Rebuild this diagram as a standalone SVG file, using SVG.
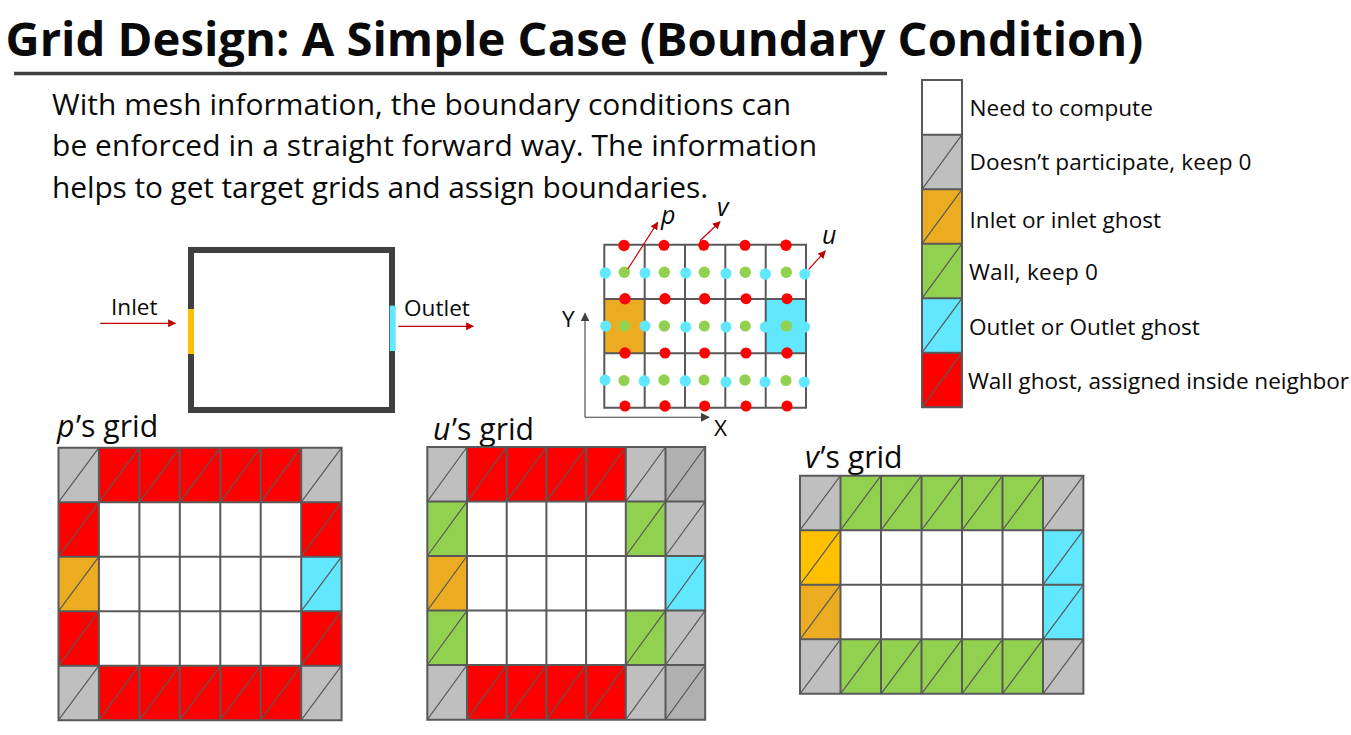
<svg xmlns="http://www.w3.org/2000/svg" width="1351" height="735" viewBox="0 0 1351 735">
<style>
text{font-family:"Open Sans","Noto Sans","DejaVu Sans",sans-serif;fill:#0a0a0a}
.t{font-size:29.9px}.h{font-size:30.2px}.l{font-size:22.6px}.s{font-size:25px}.i{font-style:italic}
.w{fill:#fff}.g{fill:#bfbfbf}.g2{fill:#b0b0b0}.o{fill:#ecac22}.y{fill:#ffc000}.n{fill:#92d050}.c{fill:#61e8ff}.r{fill:#f00}
.grid{fill:none;stroke:#595959;stroke-width:2}
.diag{fill:none;stroke:#595959;stroke-width:1.2}
.red{fill:none;stroke:#c00000;stroke-width:1.2;marker-end:url(#ar)}
.ax{fill:none;stroke:#404040;stroke-width:1.1;marker-end:url(#ak)}
.dr{fill:#f00}.dg{fill:#92d050}.dc{fill:#61e8ff}
</style>
<defs>
<marker id="ar" viewBox="0 0 10 10" refX="9" refY="5" markerWidth="8" markerHeight="8" markerUnits="userSpaceOnUse" orient="auto"><path d="M0 0L10 5L0 10z" fill="#c00000"/></marker>
<marker id="ak" viewBox="0 0 10 10" refX="9" refY="5" markerWidth="9" markerHeight="9" markerUnits="userSpaceOnUse" orient="auto"><path d="M0 0L10 5L0 10z" fill="#404040"/></marker>
</defs>
<rect width="1351" height="735" fill="#fff"/>
<g id="title">
<text x="5.5" y="56" font-size="47.2" font-weight="700">Grid Design: A Simple Case (Boundary Condition)</text>
<path d="M14 73.5H887" stroke="#404040" stroke-width="3.5" fill="none"/>
</g>
<g id="intro">
<text class="t" x="52" y="115" textLength="739">With mesh information, the boundary conditions can</text>
<text class="t" x="52" y="156" textLength="765">be enforced in a straight forward way. The information</text>
<text class="t" x="52" y="198" textLength="656">helps to get target grids and assign boundaries.</text>
</g>
<g id="legend">
<rect class="w" x="922" y="80" width="40" height="54.7"/>
<rect class="g" x="922" y="134.7" width="40" height="54.6"/>
<rect class="o" x="922" y="189.3" width="40" height="54.4"/>
<rect class="n" x="922" y="243.7" width="40" height="54.6"/>
<rect class="c" x="922" y="298.3" width="40" height="54.4"/>
<rect class="r" x="922" y="352.7" width="40" height="54.6"/>
<path class="grid" d="M922 80H962V407.3H922ZM922 134.7H962M922 189.3H962M922 243.7H962M922 298.3H962M922 352.7H962"/>
<path class="diag" d="M922 189.3L962 134.7M922 243.7L962 189.3M922 298.3L962 243.7M922 352.7L962 298.3M922 407.3L962 352.7"/>
<text class="l" x="969.5" y="116">Need to compute</text>
<text class="l" x="969.5" y="170" textLength="282">Doesn’t participate, keep 0</text>
<text class="l" x="969.5" y="228">Inlet or inlet ghost</text>
<text class="l" x="969" y="280" textLength="129">Wall, keep 0</text>
<text class="l" x="969" y="335">Outlet or Outlet ghost</text>
<text class="l" x="968" y="389" textLength="381">Wall ghost, assigned inside neighbor</text>
</g>
<g id="domain">
<rect x="191" y="250" width="201" height="160" fill="#fff" stroke="#404040" stroke-width="6"/>
<rect class="y" x="188" y="309" width="6" height="45"/>
<rect class="c" x="389.7" y="305.7" width="6" height="45.3"/>
<text class="l" x="111" y="315">Inlet</text>
<text class="l" x="404" y="316">Outlet</text>
</g>
<g id="mesh">
<rect class="o" x="604.3" y="299" width="40.4" height="54.3"/>
<rect class="c" x="765.7" y="299" width="40.3" height="54.3"/>
<path class="grid" d="M604.3 244.7H806V407.7H604.3ZM644.7 244.7V407.7M685 244.7V407.7M725.3 244.7V407.7M765.7 244.7V407.7M604.3 299H806M604.3 353.3H806"/>
<g class="dc">
<circle cx="605.3" cy="273" r="5.7"/><circle cx="645" cy="273" r="5.5"/><circle cx="685.7" cy="273" r="5.5"/><circle cx="726" cy="273.5" r="5.5"/><circle cx="765.3" cy="274" r="5.7"/><circle cx="804.7" cy="274" r="5.5"/>
<circle cx="605.7" cy="326" r="5.5"/><circle cx="645" cy="326" r="5.5"/><circle cx="685.7" cy="327" r="5.5"/><circle cx="726" cy="327" r="5.5"/><circle cx="765.3" cy="327" r="5.5"/><circle cx="804.7" cy="327" r="5.5"/>
<circle cx="605" cy="380" r="5.5"/><circle cx="644.3" cy="381" r="5.7"/><circle cx="685.3" cy="381" r="5.7"/><circle cx="726" cy="382" r="5.5"/><circle cx="765" cy="382" r="5.5"/><circle cx="804.3" cy="382" r="5.5"/>
</g>
<g class="dg">
<circle cx="624.3" cy="272.3" r="5.7"/><circle cx="664.3" cy="272.3" r="5.7"/><circle cx="704.3" cy="272.3" r="5.7"/><circle cx="745.3" cy="272.3" r="5.7"/><circle cx="786.3" cy="272.3" r="5.7"/>
<circle cx="624.3" cy="326" r="5.7"/><circle cx="664.3" cy="326" r="5.7"/><circle cx="704.3" cy="326" r="5.5"/><circle cx="745.3" cy="326" r="5.5"/><circle cx="786.3" cy="326" r="5.7"/>
<circle cx="624" cy="380.5" r="5.5"/><circle cx="664" cy="380" r="5.7"/><circle cx="704" cy="380" r="5.5"/><circle cx="745" cy="380" r="5.7"/><circle cx="786" cy="380.5" r="5.5"/>
</g>
<g class="dr">
<circle cx="624" cy="245.5" r="5.7"/><circle cx="664" cy="245.3" r="5.5"/><circle cx="703.7" cy="245.3" r="5.5"/><circle cx="745" cy="245.3" r="5.5"/><circle cx="786" cy="245.3" r="5.7"/>
<circle cx="625" cy="298.7" r="5.7"/><circle cx="665" cy="298.7" r="5.7"/><circle cx="704.7" cy="298.7" r="5.7"/><circle cx="746" cy="298.7" r="5.5"/><circle cx="787" cy="298.7" r="5.5"/>
<circle cx="625" cy="353" r="5.7"/><circle cx="665" cy="353" r="5.5"/><circle cx="704.7" cy="353" r="5.5"/><circle cx="746" cy="353" r="5.5"/><circle cx="787" cy="353" r="5.7"/>
<circle cx="625" cy="406" r="5.5"/><circle cx="665" cy="406" r="5.7"/><circle cx="704.7" cy="406" r="5.5"/><circle cx="746" cy="406" r="5.5"/><circle cx="787" cy="406" r="5.5"/>
</g>
<text class="l" x="562" y="327">Y</text>
<text class="l" x="714" y="436">X</text>
<text class="s i" x="661" y="224">p</text>
<text class="s i" x="717" y="216">v</text>
<text class="s i" x="822" y="244">u</text>
</g>
<g id="connectors">
<path class="red" d="M100.3 323.3H175.3"/>
<path class="red" d="M398.3 326.3H473.3"/>
<path class="red" d="M627.7 269.3L657.7 222.3"/>
<path class="red" d="M700 240.7L720 221.7"/>
<path class="red" d="M808.7 269.3L825.3 251"/>
<path class="ax" d="M585 417.3V313.3"/>
<path class="ax" d="M585 417.3H709"/>
</g>
<g id="p-grid">
<text class="h" x="57" y="437"><tspan class="i">p</tspan><tspan dx="1.5">’s grid</tspan></text>
<rect class="r" x="58.5" y="447.7" width="283.1" height="272.5"/>
<rect class="g" x="58.5" y="447.7" width="40.4" height="54.5"/><rect class="g" x="301.2" y="447.7" width="40.4" height="54.5"/>
<rect class="g" x="58.5" y="665.7" width="40.4" height="54.5"/><rect class="g" x="301.2" y="665.7" width="40.4" height="54.5"/>
<rect class="o" x="58.5" y="556.7" width="40.4" height="54.5"/><rect class="c" x="301.2" y="556.7" width="40.4" height="54.5"/>
<rect class="w" x="98.9" y="502.2" width="202.3" height="163.5"/>
<path class="grid" d="M58.5 447.7H341.6V720.2H58.5ZM58.5 502.2H341.6M58.5 556.7H341.6M58.5 611.2H341.6M58.5 665.7H341.6M98.9 447.7V720.2M139.4 447.7V720.2M179.8 447.7V720.2M220.3 447.7V720.2M260.7 447.7V720.2M301.2 447.7V720.2"/>
<path class="diag" d="M58.5 502.2l40.4-54.5M98.9 502.2l40.4-54.5M139.4 502.2l40.4-54.5M179.8 502.2l40.4-54.5M220.3 502.2l40.4-54.5M260.7 502.2l40.4-54.5M301.2 502.2l40.4-54.5M58.5 720.2l40.4-54.5M98.9 720.2l40.4-54.5M139.4 720.2l40.4-54.5M179.8 720.2l40.4-54.5M220.3 720.2l40.4-54.5M260.7 720.2l40.4-54.5M301.2 720.2l40.4-54.5M58.5 556.7l40.4-54.5M58.5 611.2l40.4-54.5M58.5 665.7l40.4-54.5M301.2 556.7l40.4-54.5M301.2 611.2l40.4-54.5M301.2 665.7l40.4-54.5"/>
</g>
<g id="u-grid">
<text class="h" x="433" y="440"><tspan class="i">u</tspan><tspan dx="1.5">’s grid</tspan></text>
<rect class="g" x="427.3" y="447" width="277.9" height="272.7"/>
<rect class="r" x="467" y="447" width="158.8" height="54.6"/><rect class="r" x="467" y="665" width="158.8" height="54.7"/>
<rect class="g2" x="665.5" y="447" width="39.7" height="54.6"/><rect class="g2" x="665.5" y="665" width="39.7" height="54.7"/>
<rect class="n" x="427.3" y="501.6" width="39.7" height="54.4"/><rect class="n" x="427.3" y="610.6" width="39.7" height="54.4"/>
<rect class="o" x="427.3" y="556" width="39.7" height="54.6"/>
<rect class="n" x="625.8" y="501.6" width="39.7" height="54.4"/><rect class="n" x="625.8" y="610.6" width="39.7" height="54.4"/>
<rect class="c" x="665.5" y="556" width="39.7" height="54.6"/>
<rect class="w" x="467" y="501.6" width="158.8" height="163.4"/><rect class="w" x="625.8" y="556" width="39.7" height="54.6"/>
<path class="grid" d="M427.3 447H705.2V719.7H427.3ZM427.3 501.6H705.2M427.3 556H705.2M427.3 610.6H705.2M427.3 665H705.2M467 447V719.7M506.7 447V719.7M546.4 447V719.7M586.1 447V719.7M625.8 447V719.7M665.5 447V719.7"/>
<path class="diag" d="M427.3 501.6l39.7-54.6M467 501.6l39.7-54.6M506.7 501.6l39.7-54.6M546.4 501.6l39.7-54.6M586.1 501.6l39.7-54.6M625.8 501.6l39.7-54.6M665.5 501.6l39.7-54.6M427.3 719.7l39.7-54.7M467 719.7l39.7-54.7M506.7 719.7l39.7-54.7M546.4 719.7l39.7-54.7M586.1 719.7l39.7-54.7M625.8 719.7l39.7-54.7M665.5 719.7l39.7-54.7M427.3 556l39.7-54.4M427.3 610.6l39.7-54.6M427.3 665l39.7-54.4M625.8 556l39.7-54.4M665.5 556l39.7-54.4M665.5 610.6l39.7-54.6M625.8 665l39.7-54.4M665.5 665l39.7-54.4"/>
</g>
<g id="v-grid">
<text class="h" x="805" y="468"><tspan class="i">v</tspan><tspan dx="1.5">’s grid</tspan></text>
<rect class="g" x="800" y="475.7" width="283.4" height="218.1"/>
<rect class="n" x="840.5" y="475.7" width="202.5" height="54.5"/><rect class="n" x="840.5" y="639.3" width="202.5" height="54.5"/>
<rect class="y" x="800" y="530.2" width="40.5" height="54.6"/><rect class="o" x="800" y="584.8" width="40.5" height="54.5"/>
<rect class="c" x="1043" y="530.2" width="40.4" height="109.1"/>
<rect class="w" x="840.5" y="530.2" width="202.5" height="109.1"/>
<path class="grid" d="M800 475.7H1083.4V693.8H800ZM800 530.2H1083.4M800 584.8H1083.4M800 639.3H1083.4M840.5 475.7V693.8M881 475.7V693.8M921.5 475.7V693.8M962 475.7V693.8M1002.5 475.7V693.8M1043 475.7V693.8"/>
<path class="diag" d="M800 530.2l40.5-54.5M840.5 530.2l40.5-54.5M881 530.2l40.5-54.5M921.5 530.2l40.5-54.5M962 530.2l40.5-54.5M1002.5 530.2l40.5-54.5M1043 530.2l40.4-54.5M800 693.8l40.5-54.5M840.5 693.8l40.5-54.5M881 693.8l40.5-54.5M921.5 693.8l40.5-54.5M962 693.8l40.5-54.5M1002.5 693.8l40.5-54.5M1043 693.8l40.4-54.5M800 584.8l40.5-54.6M800 639.3l40.5-54.5M1043 584.8l40.4-54.6M1043 639.3l40.4-54.5"/>
</g>
</svg>
